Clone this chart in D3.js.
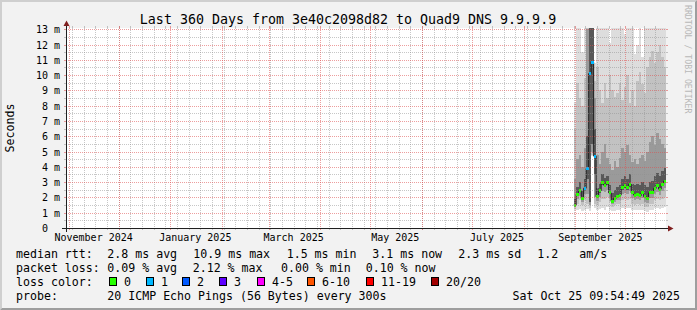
<!DOCTYPE html>
<html>
<head>
<meta charset="utf-8">
<script src="https://cdn.jsdelivr.net/npm/d3@7"></script>
<style>
  html, body { margin: 0; padding: 0; background: #f2f2f2; }
  svg { display: block; font-family: "DejaVu Sans Mono", monospace; }
</style>
</head>
<body>
<svg id="chart" width="697" height="310"></svg>
<script>
// ---- data (milliseconds), one bin every 36 hours starting Aug 31 2025 ----
var binStart = new Date(2025, 7, 31);
var binHours = 36;

var medianRtt = [1.5, 2.2, 2.44, 1.94, 2.6, 3.9, 10.1, 10.85, 4.7, 2.05,
                 2.44, 2.98, 2.8, 2.98, 2.3, 1.76, 1.94, 2.09, 2.15, 2.63,
                 2.76, 2.63, 2.85, 2.3, 2.15, 2.2, 2.1, 2.3, 2.05, 1.94,
                 2.3, 2.3, 2.59, 2.8, 2.54, 2.85, 3.07];
var lossCount = [0, 0, 0, 0, 1, 1, 1, 1, 1, 0,
                 0, 0, 0, 0, 0, 0, 0, 0, 0, 0,
                 0, 0, 0, 0, 0, 0, 0, 0, 0, 0,
                 0, 0, 0, 0, 0, 0, 0];

// sorted ping ranks used for the smoke
var ping01 = [1.15, 1.2, 1.25, 1.1, 1.2, 1.25, 1.1, 4.7, 1.3, 1.2,
              1.25, 1.3, 1.2, 1.35, 1.2, 1.1, 1.1, 1.2, 1.2, 1.3,
              1.25, 1.3, 1.3, 1.2, 1.15, 1.2, 1.15, 1.2, 1.1, 1.05,
              1.15, 1.2, 1.3, 1.3, 1.25, 1.3, 1.35];
var ping03 = [1.3, 1.6, 1.8, 1.5, 1.8, 1.6, 1.3, 4.8, 1.6, 1.5,
              1.7, 1.9, 1.9, 2.0, 1.7, 1.4, 1.5, 1.6, 1.6, 1.8,
              1.9, 1.8, 1.9, 1.6, 1.5, 1.6, 1.5, 1.6, 1.4, 1.4,
              1.6, 1.6, 1.8, 1.9, 1.8, 1.9, 2.0];
var ping06 = [1.4, 1.9, 2.1, 1.7, 2.2, 2.2, 1.5, 5.0, 2.0, 1.75,
              2.05, 2.45, 2.35, 2.5, 1.95, 1.55, 1.7, 1.8, 1.85, 2.2,
              2.3, 2.2, 2.4, 1.95, 1.8, 1.9, 1.8, 1.95, 1.7, 1.65,
              1.95, 1.95, 2.2, 2.35, 2.15, 2.4, 2.6];
var ping09 = [1.45, 2.1, 2.35, 1.85, 2.45, 3.2, 1.7, 5.5, 3.5, 1.95,
              2.3, 2.8, 2.65, 2.8, 2.2, 1.68, 1.85, 2.0, 2.05, 2.5,
              2.6, 2.5, 2.7, 2.2, 2.05, 2.1, 2.0, 2.2, 1.95, 1.85,
              2.2, 2.2, 2.48, 2.65, 2.42, 2.72, 2.95];
var ping12 = [1.9, 2.7, 3.0, 2.4, 3.2, 6.0, 14, 14, 6.5, 2.6,
              2.9, 3.5, 3.3, 3.4, 2.8, 2.3, 2.5, 2.7, 2.8, 3.2,
              3.4, 3.2, 3.5, 2.9, 2.8, 2.9, 2.8, 3.0, 2.8, 2.7,
              3.0, 3.1, 3.4, 3.6, 3.4, 3.7, 3.9];
var ping15 = [3.2, 4.5, 4.8, 4.0, 5.2, 13, 14, 14, 8.5, 4.8,
              4.2, 5.0, 5.5, 4.6, 4.2, 3.8, 4.4, 4.0, 4.6, 5.2,
              5.0, 5.4, 4.8, 4.3, 4.5, 4.2, 4.6, 4.8, 4.4, 5.0,
              5.6, 6.0, 5.4, 6.2, 5.8, 5.5, 5.2];
var ping18 = [6.5, 9.5, 8.5, 8.0, 9.8, 14, 14, 14, 9.6, 10.5,
              9.0, 8.2, 9.5, 8.5, 10, 9.0, 8.6, 8.8, 9.5, 8.4,
              9.2, 10, 8.2, 9.0, 8.0, 9.6, 10.2, 9.4, 8.8, 10.5,
              11.2, 11.6, 10.8, 11.5, 12, 11.2, 10.5];
var ping20 = [8.2, 14, 14, 11.5, 14, 14, 14, 14, 10.8, 14,
              14, 14, 14, 14, 12.1, 14, 14, 14, 14, 14,
              12.7, 14, 14, 14, 11.4, 12.0, 14, 11.2, 14, 14,
              14, 14, 14, 14, 14, 14, 14];

var lossLabels = ["0", "1", "2", "3", "4-5", "6-10", "11-19", "20/20"];
var lossUpper = [0, 1, 2, 3, 5, 10, 19, 20];
var lossColors = ["#26ff00", "#00b8ff", "#0059ff", "#5e00ff", "#ff00fe", "#ff5500", "#ff0000", "#a10000"];

var rttStats = ["2.8 ms avg", "10.9 ms max", "1.5 ms min", "3.1 ms now", "2.3 ms sd", "1.2", "am/s"];
var lossStats = ["0.09 % avg", "2.12 % max", "0.00 % min", "0.10 % now"];

var title = "Last 360 Days from 3e40c2098d82 to Quad9 DNS 9.9.9.9";
var probeText = "20 ICMP Echo Pings (56 Bytes) every 300s";
var endTime = new Date(2025, 9, 25, 9, 54, 49);
var startTime = d3.timeDay.offset(endTime, -360);
var yMax = 13.08;

// ---- layout ----
var svg = d3.select("#chart");
var W = 697, H = 310;
var X0 = 66, X1 = 666, Y0 = 228, Y1 = 28;

var x = d3.scaleTime().domain([startTime, endTime]).range([X0, X1]);
var y = d3.scaleLinear().domain([0, yMax]).range([Y0, Y1]);
function px(v) { return Math.round(v) + 0.5; }

// background and 3d border
svg.append("rect").attr("width", W).attr("height", H).attr("fill", "#f2f2f2");
svg.append("polygon").attr("points", "0,310 2,308 2,2 695,2 697,0 0,0").attr("fill", "#cfcfcf");
svg.append("polygon").attr("points", "2,308 695,308 695,2 697,0 697,310 0,310").attr("fill", "#9e9e9e");

svg.append("rect").attr("x", X0).attr("y", Y1).attr("width", X1 - X0).attr("height", Y0 - Y1).attr("fill", "#fff");

svg.append("clipPath").attr("id", "plot")
  .append("rect").attr("x", X0).attr("y", Y1).attr("width", X1 - X0).attr("height", Y0 - Y1);

// ---- smoke ----
var bins = medianRtt.map(function (m, i) {
  return {
    t0: d3.timeHour.offset(binStart, binHours * i),
    t1: d3.timeHour.offset(binStart, binHours * (i + 1)),
    median: m,
    loss: lossCount[i]
  };
});

var bands = [
  { lo: ping01, hi: ping20, color: "#dddddd" },
  { lo: ping03, hi: ping18, color: "#c2c2c2" },
  { lo: ping06, hi: ping15, color: "#9a9a9a" },
  { lo: ping09, hi: ping12, color: "#585858" }
];

var smoke = svg.append("g").attr("clip-path", "url(#plot)").attr("shape-rendering", "crispEdges");
bands.forEach(function (band) {
  smoke.append("g").selectAll("rect")
    .data(bins)
    .join("rect")
    .attr("x", function (d) { return x(d.t0); })
    .attr("width", function (d) { return x(d.t1) - x(d.t0); })
    .attr("y", function (d, i) { return y(band.hi[i]); })
    .attr("height", function (d, i) { return y(band.lo[i]) - y(band.hi[i]); })
    .attr("fill", band.color);
});

// median: thin dark line plus loss coloured blocks
var medianLine = d3.line()
  .x(function (d) { return d[0]; })
  .y(function (d) { return d[1]; })
  .curve(d3.curveStepAfter);
var linePts = bins.map(function (d) { return [x(d.t0), y(d.median)]; });
linePts.push([x(bins[bins.length - 1].t1), y(bins[bins.length - 1].median)]);

var medG = svg.append("g").attr("clip-path", "url(#plot)");
medG.append("path")
  .attr("d", medianLine(linePts))
  .attr("fill", "none")
  .attr("stroke", "#202020")
  .attr("stroke-width", 1);

function lossColor(n) {
  for (var k = 0; k < lossUpper.length; k++) if (n <= lossUpper[k]) return lossColors[k];
  return lossColors[lossColors.length - 1];
}
medG.append("g").attr("shape-rendering", "crispEdges").selectAll("rect")
  .data(bins)
  .join("rect")
  .attr("x", function (d) { return x(d.t0); })
  .attr("width", function (d) { return x(d.t1) - x(d.t0); })
  .attr("y", function (d) { return y(d.median) - 1.5; })
  .attr("height", 3)
  .attr("fill", function (d) { return lossColor(d.loss); });

// ---- grid (drawn over the data, like rrdtool) ----
var gridCol = "rgba(143,143,143,0.5)";
var mgridCol = "rgba(222,79,79,0.55)";
var grid = svg.append("g").attr("stroke-width", 1).attr("fill", "none");

function hLine(v, col) {
  var yy = px(y(v));
  grid.append("line").attr("x1", X0).attr("x2", X1).attr("y1", yy).attr("y2", yy)
    .attr("stroke", col).attr("stroke-dasharray", "1,1");
  grid.append("line").attr("x1", X0 - 2).attr("x2", X0).attr("y1", yy).attr("y2", yy).attr("stroke", col);
  grid.append("line").attr("x1", X1).attr("x2", X1 + 2).attr("y1", yy).attr("y2", yy).attr("stroke", col);
}
function vLine(t, col) {
  var xx = px(x(t));
  grid.append("line").attr("x1", xx).attr("x2", xx).attr("y1", Y1).attr("y2", Y0)
    .attr("stroke", col).attr("stroke-dasharray", "1,1");
  grid.append("line").attr("x1", xx).attr("x2", xx).attr("y1", Y1 - 2).attr("y2", Y1).attr("stroke", col);
  grid.append("line").attr("x1", xx).attr("x2", xx).attr("y1", Y0).attr("y2", Y0 + 2).attr("stroke", col);
}

var yMinor = d3.range(0.5, yMax, 1);
var yMajor = d3.range(1, yMax, 1);
var weeks = d3.timeSunday.range(startTime, endTime);
var months = d3.timeMonth.range(startTime, endTime);

yMinor.forEach(function (v) { hLine(v, gridCol); });
weeks.forEach(function (t) { vLine(t, gridCol); });
yMajor.forEach(function (v) { hLine(v, mgridCol); });
months.forEach(function (t) { vLine(t, mgridCol); });

// ---- axes ----
var axisCol = "#1f1f1f", arrowCol = "#801f1f";
svg.append("line").attr("x1", X0 - 4).attr("x2", X1 + 4).attr("y1", Y0 + 0.5).attr("y2", Y0 + 0.5)
  .attr("stroke", axisCol).attr("stroke-width", 1);
svg.append("line").attr("x1", X0 + 0.5).attr("x2", X0 + 0.5).attr("y1", Y0 + 4).attr("y2", Y1 - 4)
  .attr("stroke", axisCol).attr("stroke-width", 1);
svg.append("polygon")
  .attr("points", [[X1 + 2, Y0 - 2.5], [X1 + 2, Y0 + 3.5], [X1 + 7.5, Y0 + 0.5]].join(" "))
  .attr("fill", arrowCol);
svg.append("polygon")
  .attr("points", [[X0 - 2.5, Y1 - 2], [X0 + 3.5, Y1 - 2], [X0 + 0.5, Y1 - 7.5]].join(" "))
  .attr("fill", arrowCol);

// y labels
svg.append("g").selectAll("text")
  .data([0].concat(yMajor))
  .join("text")
  .attr("x", 60)
  .attr("y", function (v) { return px(y(v)) + 3.5; })
  .attr("text-anchor", "end")
  .attr("font-size", "10px")
  .attr("fill", "#000")
  .text(function (v) { return v === 0 ? "0  " : v + " m"; })
  .style("white-space", "pre");

// x labels every second month, centred half a month after the month start
var labelMonths = months.filter(function (t, i) { return i % 2 === 0; });
svg.append("g").selectAll("text")
  .data(labelMonths)
  .join("text")
  .attr("x", function (t) { return x(d3.timeDay.offset(t, 15)); })
  .attr("y", 240.5)
  .attr("text-anchor", "middle")
  .attr("font-size", "10px")
  .text(d3.timeFormat("%B %Y"));

// titles
svg.append("text").attr("x", 348).attr("y", 23.5).attr("text-anchor", "middle")
  .attr("font-size", "13.3px").text(title);
svg.append("text").attr("transform", "translate(13.5,128) rotate(-90)")
  .attr("text-anchor", "middle").attr("font-size", "11.6px").text("Seconds");
svg.append("text").attr("transform", "translate(684.5,5) rotate(90)")
  .attr("font-size", "8.2px").attr("fill", "#b8b8b8").text("RRDTOOL / TOBI OETIKER");

// ---- legend ----
var leg = svg.append("g").attr("font-size", "11.6px").attr("fill", "#000");
function lt(xp, yp, s, anchor) {
  leg.append("text").attr("x", xp).attr("y", yp).attr("text-anchor", anchor || "start")
    .style("white-space", "pre").text(s);
}
var rttX = [107.3, 193.3, 286.7, 372.3, 458.3, 537.3, 579.3];
lt(16, 258, "median rtt:");
rttStats.forEach(function (s, i) { lt(rttX[i], 258, s); });

var lossX = [107.3, 192.7, 281, 365.7];
lt(16, 272, "packet loss:");
lossStats.forEach(function (s, i) { lt(lossX[i], 272, s); });

var boxX = [108.7, 145.7, 182.3, 219.3, 256.7, 307, 365.7, 430.7];
lt(16, 286, "loss color:");
lossLabels.forEach(function (s, i) {
  leg.append("rect").attr("x", Math.round(boxX[i]) + 0.5).attr("y", 277.5)
    .attr("width", 7).attr("height", 8)
    .attr("fill", lossColors[i]).attr("stroke", "#000").attr("stroke-width", 1);
  lt(Math.round(boxX[i]) + 15, 286, s);
});

lt(16, 299.5, "probe:");
lt(107.3, 299.5, probeText);
lt(680, 299.5, d3.timeFormat("%a %b %d %H:%M:%S %Y")(endTime), "end");
</script>
</body>
</html>
